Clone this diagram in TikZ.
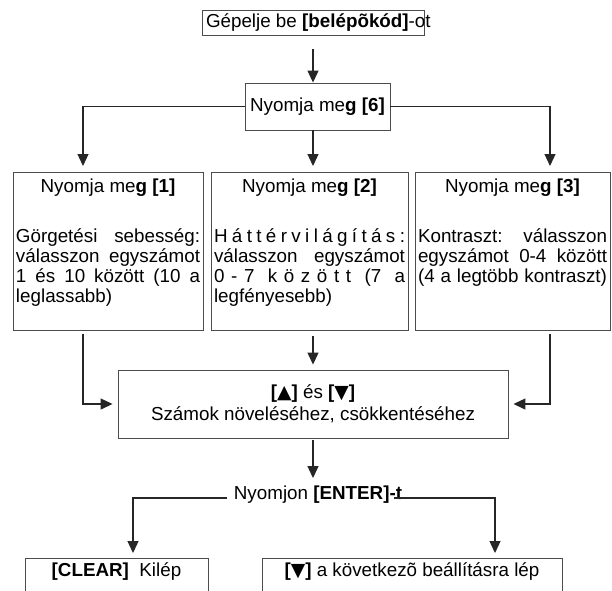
\documentclass[tikz,border=0pt]{standalone}
\usepackage{fontspec}
\setmainfont{Liberation Sans}
\newfontfamily\symfont{DejaVu Sans}
\usetikzlibrary{arrows.meta}
\newcommand{\spreadline}[1]{\makebox[\linewidth][s]{#1}}
\newcommand{\tri}[1]{{\symfont #1}}
\tikzset{
  box/.style={draw=black!70, line width=0.9pt, inner xsep=3pt, inner ysep=4pt},
  flow/.style={draw=black!85, line width=1.2pt, -{Triangle[length=12pt,width=11pt]}},
  txt/.style={font=\fontsize{18.8}{20}\selectfont}
}

\begin{document}
\begin{tikzpicture}[x=1pt,y=-1pt,every node/.style={txt}]
\useasboundingbox (0,0) rectangle (612,590);
\clip (0,0) rectangle (612,590);

% Draw the start box and the [6] box
\node[box, minimum height=25pt, inner xsep=4pt, inner ysep=0pt] (code) at (313,22.5) {\makebox[214pt][l]{Gépelje be \textbf{[belépõkód]}-ot}};
\node[box, minimum width=145pt, minimum height=47pt, inner sep=0pt] (six) at (317.5,106.5) {Nyomja me\textbf{g [6]}};
\draw[flow, shorten <=14pt] (code.south) -- (code.south |- six.north);

% Draw the three option boxes
\node[box, anchor=north] (opt1) at (108,172) {\parbox[t][150pt][t]{184pt}{%
  {\centering\rule{0pt}{16.5pt}Nyomja me\textbf{g [1]}\par}\vspace{30pt}
  \spreadline{Görgetési sebesség:}\par
  \spreadline{válasszon egyszámot}\par
  \spreadline{1 és 10 között (10 a}\par
  leglassabb)}};
\node[box, anchor=north] (opt2) at (309.5,172) {\parbox[t][150pt][t]{191pt}{%
  {\centering\rule{0pt}{16.5pt}Nyomja me\textbf{g [2]}\par}\vspace{30pt}
  \spreadline{H á t t é r v i l á g í t á s :}\par
  \spreadline{válasszon egyszámot}\par
  \spreadline{0 - 7 \ k ö z ö t t \ (7 \ a}\par
  legfényesebb)}};
\node[box, anchor=north] (opt3) at (512.5,172) {\parbox[t][150pt][t]{189pt}{%
  {\centering\rule{0pt}{16.5pt}Nyomja me\textbf{g [3]}\par}\vspace{30pt}
  \spreadline{Kontraszt: válasszon}\par
  \spreadline{egyszámot 0-4 között}\par
  \spreadline{(4 a legtöbb kontraszt)}}};

% Arrow tips above the option boxes
\coordinate (t1) at (83,166);
\coordinate (t2) at (313,166);
\coordinate (t3) at (550,166);
\draw[flow] (six.west) -| (t1);
\draw[flow] (six.east) -| (t3);
\draw[flow] (t2 |- six.south) -- (t2);

% Draw the up/down box
\node[box, minimum width=390pt, minimum height=68pt, align=center] (adj) at (313,404)
  {\textbf{[\tri{▲}]} és \textbf{[\tri{▼}]}\\[2pt] Számok növeléséhez, csökkentéséhez};
\draw[flow, shorten <=3pt, shorten >=5pt] (t1 |- opt1.south) |- (adj.west);
\draw[flow, shorten <=3pt, shorten >=5pt] (t3 |- opt3.south) |- (adj.east);
\draw[flow, shorten <=5pt, shorten >=5pt] (adj.north |- opt2.south) -- (adj.north);

% Enter and the two last boxes
\node[inner sep=0pt] (enter) at (318,495) {Nyomjon \textbf{[ENTER]-t}};
\draw[flow, shorten <=2pt, shorten >=8pt] (adj.south) -- (adj.south |- enter.north);
\node[box, anchor=north] (clear) at (116.5,558) {\parbox[t][40pt][t]{177pt}{%
  \centering\rule{0pt}{14.5pt}\textbf{[CLEAR]} \ Kilép}};
\node[box, anchor=north] (next) at (412,558) {\parbox[t][40pt][t]{294pt}{%
  \centering\rule{0pt}{14.5pt}\textbf{[\tri{▼}]} a következõ beállításra lép}};
\coordinate (t4) at (133,553);
\coordinate (t5) at (495,553);
\draw[flow] ([xshift=-7pt,yshift=-3pt]enter.west) -| (t4);
\draw[flow] ([xshift=-8pt,yshift=-3pt]enter.east) -| (t5);

\end{tikzpicture}
\end{document}
